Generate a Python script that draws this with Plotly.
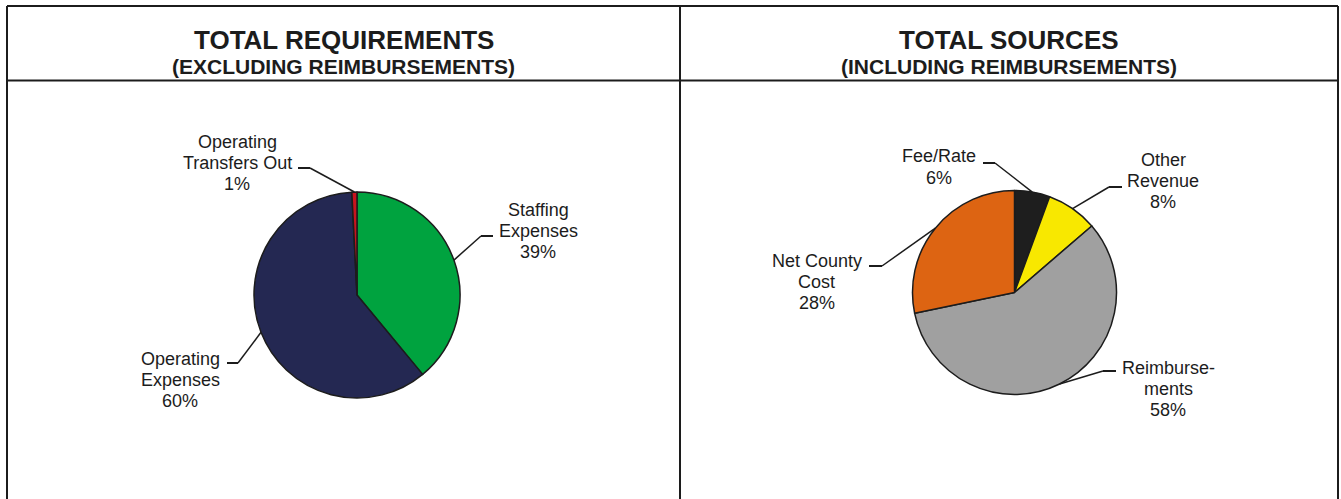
import math
import plotly.graph_objects as go

# ---------------- data ----------------
req_names = ["Staffing<br>Expenses", "Operating<br>Expenses", "Operating<br>Transfers Out"]
req_values = [39.0, 60.2, 0.8]
req_colors = ["#00A33F", "#242852", "#C8141E"]

src_names = ["Fee/Rate", "Other<br>Revenue", "Reimburse-<br>ments", "Net County<br>Cost"]
src_values = [5.6, 8.1, 58.1, 28.3]
src_colors = ["#1E1E1E", "#F8E800", "#A0A0A0", "#DD6412"]

titles = ["TOTAL REQUIREMENTS", "TOTAL SOURCES"]
subtitles = ["(EXCLUDING REIMBURSEMENTS)", "(INCLUDING REIMBURSEMENTS)"]

# ---------------- layout geometry (pixels) ----------------
W, H = 1341, 499
FONT = "Liberation Sans, Arial, sans-serif"
INK = "#1c1c1c"
LINE_GAP = 21

pies = [
    dict(names=req_names, values=req_values, colors=req_colors, cx=357, cy=295, r=103,
         # (elbow x, elbow y, end x, text center x, text center y)
         leaders=[(481, 236, 493, 538, 231), (238, 363, 227, 180, 380), (310, 168, 298, 237, 163)]),
    dict(names=src_names, values=src_values, colors=src_colors, cx=1014.5, cy=292.5, r=102,
         leaders=[(995, 163, 983, 939, 167), (1109, 187, 1122, 1163, 181),
                  (1103, 371, 1116, 1168, 389), (882, 266, 869, 817, 282)]),
]


def px(x):
    return x / W


def py(y):
    return 1 - y / H


fig = go.Figure()
shapes = []
annotations = []

for p in pies:
    cx, cy, r = p["cx"], p["cy"], p["r"]
    fig.add_trace(go.Pie(
        labels=[n.replace("<br>", " ") for n in p["names"]],
        values=p["values"],
        marker=dict(colors=p["colors"], line=dict(color=INK, width=1.5)),
        sort=False, direction="clockwise", rotation=0,
        textinfo="none", hoverinfo="label+percent",
        domain=dict(x=[px(cx - r), px(cx + r)], y=[py(cy + r), py(cy - r)]),
        showlegend=False,
    ))
    total = sum(p["values"])
    cum = 0.0
    for name, v, (ex, ey, endx, tx, ty) in zip(p["names"], p["values"], p["leaders"]):
        mid = (cum + v / 2) / total * 2 * math.pi
        cum += v
        sx = cx + r * math.sin(mid)
        sy = cy - r * math.cos(mid)
        shapes.append(dict(type="line", xref="paper", yref="paper",
                           x0=px(sx), y0=py(sy), x1=px(ex), y1=py(ey),
                           line=dict(color=INK, width=1.5)))
        shapes.append(dict(type="line", xref="paper", yref="paper",
                           x0=px(ex), y0=py(ey), x1=px(endx), y1=py(ey),
                           line=dict(color=INK, width=2)))
        pct = v / total * 100
        lines = name.split("<br>") + [f"{pct:.0f}%"]
        n = len(lines)
        for i, ln in enumerate(lines):
            yy = ty + (i - (n - 1) / 2) * LINE_GAP
            annotations.append(dict(
                xref="paper", yref="paper", x=px(tx), y=py(yy),
                xanchor="center", yanchor="middle", showarrow=False,
                text=ln, font=dict(family=FONT, size=18, color=INK),
            ))

# panel frame
LW = 2
frame = [
    (7, 6, 1338, 6), (7, 6, 7, H + 2), (1338, 6, 1338, H + 2),
    (680, 6, 680, H + 2), (7, 80.5, 1338, 80.5),
]
for x0, y0, x1, y1 in frame:
    shapes.append(dict(type="line", xref="paper", yref="paper",
                       x0=px(x0), y0=py(y0), x1=px(x1), y1=py(y1),
                       line=dict(color=INK, width=LW)))

panel_centers = [343.5, 1009]
for c, t, s in zip(panel_centers, titles, subtitles):
    annotations.append(dict(xref="paper", yref="paper", x=px(c), y=py(40),
                            xanchor="center", yanchor="middle", showarrow=False,
                            text=f"<b>{t}</b>",
                            font=dict(family=FONT, size=26, color=INK)))
    annotations.append(dict(xref="paper", yref="paper", x=px(c), y=py(66),
                            xanchor="center", yanchor="middle", showarrow=False,
                            text=f"<b>{s}</b>",
                            font=dict(family=FONT, size=21, color=INK)))

fig.update_layout(
    width=W, height=H,
    margin=dict(l=0, r=0, t=0, b=0),
    paper_bgcolor="white", plot_bgcolor="white",
    shapes=shapes, annotations=annotations,
    showlegend=False,
)

fig.write_html("out.html", config={"displayModeBar": False},
               post_script="document.body.style.margin='0';document.body.style.overflow='hidden';")
